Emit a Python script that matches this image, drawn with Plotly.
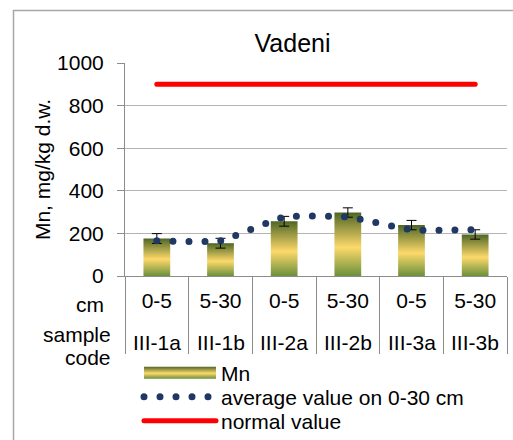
import plotly.graph_objects as go

# ---- data ---------------------------------------------------------------
sample_codes = ["III-1a", "III-1b", "III-2a", "III-2b", "III-3a", "III-3b"]
depths_cm = ["0-5", "5-30", "0-5", "5-30", "0-5", "5-30"]
mn_values = [176, 154, 257, 298, 239, 195]
mn_errors = [23, 23, 23, 22, 22, 22]
avg_0_30 = [165, 165, 277, 277, 217, 217]
normal_value = [900, 900, 900, 900, 900, 900]
y_ticks = [0, 200, 400, 600, 800, 1000]

# ---- geometry helpers (pixel -> paper) ----------------------------------
W, H = 513, 440
PL, PR, PT, PB = 125, 507, 63, 276


def px_x(px):
    return (px - PL) / (PR - PL)


def px_y(py):
    return (PB - py) / (PB - PT)


FONT = "Liberation Sans, Arial, sans-serif"
AXIS_GREY = "#8C8C8C"
GRID_GREY = "#B4B4B4"

fig = go.Figure()

fig.add_trace(go.Bar(
    x=sample_codes, y=mn_values, name="Mn",
    width=0.42,
    marker=dict(color="#B5B552", line=dict(width=0)),
    error_y=dict(type="data", array=mn_errors, color="#000000",
                 thickness=1, width=5),
    legend="legend",
))

fig.add_trace(go.Scatter(
    x=sample_codes, y=avg_0_30, name="average value on 0-30 cm",
    mode="lines",
    line=dict(color="#1F3864", width=7, dash="0px,16px",
              shape="spline", smoothing=0.4),
    legend="legend2",
))

fig.add_trace(go.Scatter(
    x=sample_codes, y=normal_value, name="normal value",
    mode="lines",
    line=dict(color="#FF0000", width=5),
    legend="legend3",
))

legend_common = dict(
    xref="paper", yref="paper", xanchor="left", yanchor="middle",
    x=px_x(139), itemwidth=72, bgcolor="rgba(0,0,0,0)", borderwidth=0,
    font=dict(family=FONT, size=21, color="#000000"),
)

fig.update_layout(
    width=W, height=H,
    margin=dict(l=PL, r=W - PR, t=PT, b=H - PB, pad=0, autoexpand=False),
    paper_bgcolor="#FFFFFF", plot_bgcolor="#FFFFFF",
    font=dict(family=FONT, size=21, color="#000000"),
    title=dict(text="Vadeni", font=dict(family=FONT, size=25, color="#000000"),
               xref="container", yref="container", x=292.5 / W, y=1 - 43 / H,
               xanchor="center", yanchor="middle"),
    showlegend=True,
    legend=dict(legend_common, y=px_y(373)),
    legend2=dict(legend_common, y=px_y(397)),
    legend3=dict(legend_common, y=px_y(421)),
    xaxis=dict(
        type="category", categoryorder="array", categoryarray=sample_codes,
        range=[-0.5, 5.5],
        tickmode="array", tickvals=sample_codes, ticktext=depths_cm,
        ticks="outside", tickson="boundaries", ticklen=77,
        tickcolor=AXIS_GREY, tickwidth=1,
        ticklabelstandoff=6,
        showline=True, linecolor=AXIS_GREY, linewidth=1,
        showgrid=False, zeroline=False,
        tickfont=dict(family=FONT, size=21, color="#000000"),
    ),
    yaxis=dict(
        range=[0, 1000], tickmode="array", tickvals=y_ticks,
        ticks="outside", ticklen=7, tickcolor=AXIS_GREY, tickwidth=1,
        ticklabelstandoff=9,
        showline=True, linecolor=AXIS_GREY, linewidth=1,
        showgrid=True, gridcolor=GRID_GREY, gridwidth=1,
        zeroline=False,
        tickfont=dict(family=FONT, size=21, color="#000000"),
        title=dict(text="Mn, mg/kg d.w.", standoff=0,
                   font=dict(family=FONT, size=21, color="#000000")),
        automargin=False,
    ),
)

# sample code row under the depth labels
for code in sample_codes:
    fig.add_annotation(x=code, xref="x", y=px_y(342), yref="paper",
                       text=code, showarrow=False, xanchor="center",
                       yanchor="middle",
                       font=dict(family=FONT, size=21, color="#000000"))

# row captions on the left
fig.add_annotation(x=px_x(106), xref="paper", y=px_y(304), yref="paper",
                   text="cm", showarrow=False, xanchor="right", yanchor="middle",
                   font=dict(family=FONT, size=21, color="#000000"))
fig.add_annotation(x=px_x(113), xref="paper", y=px_y(334), yref="paper",
                   text="sample", showarrow=False, xanchor="right", yanchor="middle",
                   font=dict(family=FONT, size=21, color="#000000"))
fig.add_annotation(x=px_x(113), xref="paper", y=px_y(357), yref="paper",
                   text="code", showarrow=False, xanchor="right", yanchor="middle",
                   font=dict(family=FONT, size=21, color="#000000"))

# chart-area frame
fig.add_shape(type="rect", xref="paper", yref="paper",
              x0=px_x(13.5), x1=px_x(540), y0=px_y(10.5), y1=px_y(470),
              line=dict(color="#A6A6A6", width=1.5), fillcolor="rgba(0,0,0,0)",
              layer="below")

# vertical olive-yellow gradient for the bars, round dots for the dotted line
post_js = """
var gd = document.getElementById('{plot_id}');
var ns = 'http://www.w3.org/2000/svg';
function ensureGradient() {
  if (document.getElementById('mnFill')) return;
  var defs = gd.querySelector('svg.main-svg defs');
  var g = document.createElementNS(ns, 'linearGradient');
  g.setAttribute('id', 'mnFill');
  g.setAttribute('x1', '0'); g.setAttribute('y1', '0');
  g.setAttribute('x2', '0'); g.setAttribute('y2', '1');
  [['0', '#4E6626'], ['0.55', '#FDD96A'], ['1', '#6B903C']].forEach(function (s) {
    var st = document.createElementNS(ns, 'stop');
    st.setAttribute('offset', s[0]);
    st.setAttribute('stop-color', s[1]);
    g.appendChild(st);
  });
  defs.appendChild(g);
}
function restyleMarks() {
  ensureGradient();
  gd.querySelectorAll('.barlayer .point path').forEach(function (p) {
    p.style.fill = 'url(#mnFill)';
  });
  gd.querySelectorAll('.legendpoints path').forEach(function (p) {
    if (p.classList.contains('js-line')) return;
    var d = p.getAttribute('d') || '';
    if (d.indexOf('M6,6H-6V-6H6Z') === 0 || p.classList.contains('legendbar')) {
      p.setAttribute('d', 'M36,6H-36V-6H36Z');
      p.style.fill = 'url(#mnFill)';
    }
  });
  gd.querySelectorAll('path.js-line').forEach(function (p) {
    p.style.strokeLinecap = 'round';
  });
}
restyleMarks();
if (gd.on) { gd.on('plotly_afterplot', restyleMarks); }
setTimeout(restyleMarks, 50);
setTimeout(restyleMarks, 300);
"""

fig.write_html("out.html", post_script=post_js, config={"displayModeBar": False})
